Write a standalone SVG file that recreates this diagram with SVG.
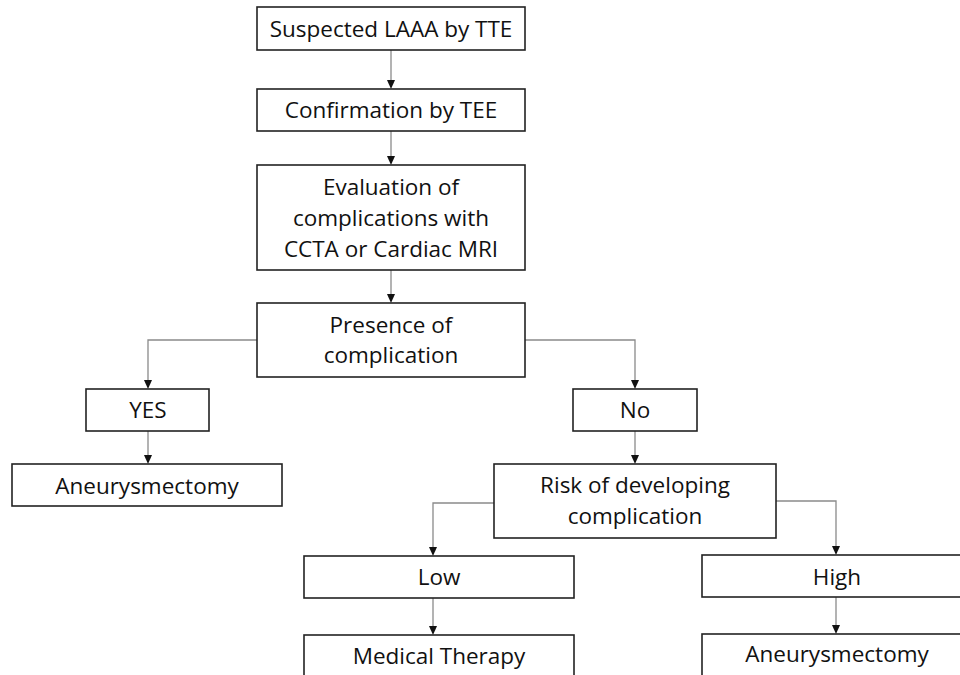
<svg xmlns="http://www.w3.org/2000/svg" width="960" height="675" viewBox="0 0 960 675">
<defs>
<style>
.box{fill:#fff;stroke:#222;stroke-width:1.6}
.t{font-family:"Open Sans","Liberation Sans",sans-serif;font-size:22.5px;fill:#111;text-anchor:middle}
.c{fill:none;stroke:#8a8a8a;stroke-width:1.3}
.h{fill:#111}
</style>
</defs>
<rect width="960" height="675" fill="#fff"/>
<g id="connectors">
<path class="c" d="M391,50 V80"/>
<path class="h" d="M387,80 L395,80 L391,89 Z"/>
<path class="c" d="M391,131 V156"/>
<path class="h" d="M387,156 L395,156 L391,165 Z"/>
<path class="c" d="M391,270 V294"/>
<path class="h" d="M387,294 L395,294 L391,303 Z"/>
<path class="c" d="M257,340 H148 V380"/>
<path class="h" d="M144,380 L152,380 L148,389 Z"/>
<path class="c" d="M525,340 H635 V380"/>
<path class="h" d="M631,380 L639,380 L635,389 Z"/>
<path class="c" d="M148,431 V455"/>
<path class="h" d="M144,455 L152,455 L148,464 Z"/>
<path class="c" d="M635,431 V455"/>
<path class="h" d="M631,455 L639,455 L635,464 Z"/>
<path class="c" d="M494,503 H433 V547"/>
<path class="h" d="M429,547 L437,547 L433,556 Z"/>
<path class="c" d="M776,501 H836 V546"/>
<path class="h" d="M832,546 L840,546 L836,555 Z"/>
<path class="c" d="M433,598 V626"/>
<path class="h" d="M429,626 L437,626 L433,635 Z"/>
<path class="c" d="M836,597 V625"/>
<path class="h" d="M832,625 L840,625 L836,634 Z"/>
</g>
<g id="n1"><rect class="box" x="257" y="7" width="268" height="43"/><text class="t" x="391" y="37">Suspected LAAA by TTE</text></g>
<g id="n2"><rect class="box" x="257" y="89" width="268" height="42"/><text class="t" x="391" y="118">Confirmation by TEE</text></g>
<g id="n3"><rect class="box" x="257" y="165" width="268" height="105"/><text class="t" x="391" y="195">Evaluation of</text><text class="t" x="391" y="226">complications with</text><text class="t" x="391" y="257">CCTA or Cardiac MRI</text></g>
<g id="n4"><rect class="box" x="257" y="303" width="268" height="74"/><text class="t" x="391" y="333">Presence of</text><text class="t" x="391" y="363">complication</text></g>
<g id="n5"><rect class="box" x="86" y="389" width="123" height="42"/><text class="t" x="148" y="418">YES</text></g>
<g id="n6"><rect class="box" x="12" y="464" width="270" height="42"/><text class="t" x="147" y="494">Aneurysmectomy</text></g>
<g id="n7"><rect class="box" x="573" y="389" width="124" height="42"/><text class="t" x="635" y="418">No</text></g>
<g id="n8"><rect class="box" x="494" y="464" width="282" height="74"/><text class="t" x="635" y="493">Risk of developing</text><text class="t" x="635" y="524">complication</text></g>
<g id="n9"><rect class="box" x="304" y="556" width="270" height="42"/><text class="t" x="439" y="585">Low</text></g>
<g id="n10"><rect class="box" x="702" y="555" width="270" height="42"/><text class="t" x="837" y="585">High</text></g>
<g id="n11"><rect class="box" x="304" y="635" width="270" height="50"/><text class="t" x="439" y="664">Medical Therapy</text></g>
<g id="n12"><rect class="box" x="702" y="634" width="270" height="50"/><text class="t" x="837" y="662">Aneurysmectomy</text></g>
</svg>
